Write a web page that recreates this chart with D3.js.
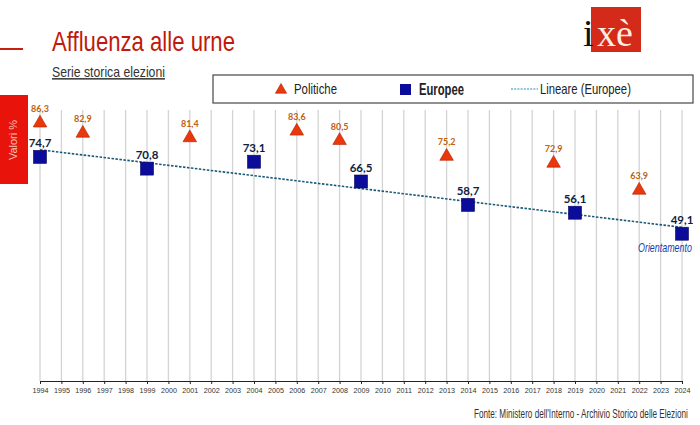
<!DOCTYPE html>
<html><head><meta charset="utf-8">
<script src="https://cdn.jsdelivr.net/npm/d3@7"></script>
<style>html,body{margin:0;padding:0;background:#fff;}</style>
</head><body>
<svg id="c" width="700" height="425"></svg>
<script>
const years = d3.range(1994, 2025);
const politicheYears = [1994, 1996, 2001, 2006, 2008, 2013, 2018, 2022];
const politicheValues = [86.3, 82.9, 81.4, 83.6, 80.5, 75.2, 72.9, 63.9];
const europeeYears = [1994, 1999, 2004, 2009, 2014, 2019, 2024];
const europeeValues = [74.7, 70.8, 73.1, 66.5, 58.7, 56.1, 49.1];
const legendLabels = ["Politiche", "Europee", "Lineare (Europee)"];

const svg = d3.select("#c");
const narrow = "'Liberation Sans Narrow','Liberation Sans',sans-serif";
const fmt = v => d3.format(".1f")(v).replace(".", ",");

// condensed text: horizontally scaled to a target width
function ctext(str, x0, y0, width, size, opts = {}) {
  const t = svg.append("text").attr("font-family", narrow).attr("font-size", size)
    .attr("fill", opts.fill || "#222").text(str);
  if (opts.weight) t.attr("font-weight", opts.weight);
  if (opts.italic) t.attr("font-style", "italic");
  if (opts.underline) t.attr("text-decoration", "underline");
  const w = t.node().getComputedTextLength();
  const sx = width / w;
  const left = opts.anchor === "end" ? x0 - width : x0;
  t.attr("transform", `translate(${left},${y0}) scale(${sx},1)`);
  return t;
}

const x = d3.scaleLinear().domain([1994, 2024]).range([40, 682]);
const y = d3.scaleLinear().domain([0, 90]).range([381, 111]);

// header
svg.append("line").attr("x1",0).attr("x2",23).attr("y1",49).attr("y2",49).attr("stroke","#c8200e").attr("stroke-width",2);
ctext("Affluenza alle urne", 52, 51, 183, 28, {fill:"#c01a0c"});
ctext("Serie storica elezioni", 52, 77, 113, 15, {fill:"#333", underline:true});

// logo
svg.append("rect").attr("x",591).attr("y",7).attr("width",50).attr("height",45).attr("fill","#d42a1a");
svg.append("text").attr("x",583).attr("y",46).attr("font-family","'Liberation Serif',serif").attr("font-size",38).attr("fill","#111").text("i");
svg.append("text").attr("x",597).attr("y",46).attr("font-family","'Liberation Serif',serif").attr("font-size",38).attr("fill","#fbeee0").text("xè");

// left red box
svg.append("rect").attr("x",0).attr("y",95).attr("width",28).attr("height",89).attr("fill","#e8140c");
svg.append("text").attr("transform","translate(17,140) rotate(-90)").attr("text-anchor","middle")
  .attr("font-family",narrow).attr("font-size",11).attr("fill","#f6c0b0").text("Valori %");

// gridlines
svg.append("g").selectAll("line").data(years).join("line")
  .attr("x1",d=>x(d)).attr("x2",d=>x(d)).attr("y1",y(90)-1).attr("y2",y(0))
  .attr("stroke","#d4d4d4").attr("stroke-width",1.3);

// axis
const ax = svg.append("g").attr("transform",`translate(0,${y(0)})`)
  .call(d3.axisBottom(x).tickValues(years).tickFormat(d3.format("d")).tickSize(3).tickSizeOuter(0));
ax.select(".domain").attr("stroke","#222").attr("stroke-width",1.2);
ax.selectAll(".tick line").attr("stroke","#222");
ax.selectAll("text").attr("font-family","'Liberation Sans',Arial,sans-serif").attr("font-size",7.2).attr("fill","#333").attr("dy","0.9em");

// legend box
svg.append("rect").attr("x",213).attr("y",75).attr("width",480).attr("height",28).attr("fill","#fff").attr("stroke","#555").attr("stroke-width",1.3);
const tri = d3.symbol().type(d3.symbolTriangle);
svg.append("path").attr("d",tri.size(55)()).attr("transform","translate(281,90)").attr("fill","#e8380c").attr("stroke","#b02000").attr("stroke-width",0.6);
ctext(legendLabels[0], 294, 94, 43, 14);
svg.append("rect").attr("x",400).attr("y",84).attr("width",11).attr("height",11).attr("fill","#0c0c9a");
ctext(legendLabels[1], 419, 95, 45, 17, {weight:"bold"});
svg.append("line").attr("x1",511).attr("x2",538).attr("y1",89).attr("y2",89).attr("stroke","#2a8ab8").attr("stroke-width",1.2).attr("stroke-dasharray","2,1.2");
ctext(legendLabels[2], 540, 94, 91, 14);

// trend line (least squares on Europee)
const mx = d3.mean(europeeYears), my = d3.mean(europeeValues);
const slope = d3.sum(europeeYears.map((yr,i)=>(yr-mx)*(europeeValues[i]-my))) / d3.sum(europeeYears.map(yr=>(yr-mx)**2));
const trend = yr => my + slope*(yr-mx);
svg.append("line").attr("x1",x(1994)).attr("y1",y(trend(1994))).attr("x2",x(2024)).attr("y2",y(trend(2024)))
  .attr("stroke","#1a5a78").attr("stroke-width",1.6).attr("stroke-dasharray","2.5,1.5");

// Politiche triangles
const pol = politicheYears.map((yr,i)=>({yr, v:politicheValues[i]}));
svg.append("g").selectAll("path").data(pol).join("path")
  .attr("d",tri.size(80)()).attr("transform",d=>`translate(${x(d.yr)},${y(d.v)+1})`)
  .attr("fill","#e8380c").attr("stroke","#b02000").attr("stroke-width",0.6);
svg.append("g").selectAll("text").data(pol).join("text")
  .attr("x",d=>x(d.yr)).attr("y",d=>y(d.v)-10).attr("text-anchor","middle")
  .attr("font-family","Lato,'Open Sans',sans-serif").attr("font-size",9).attr("font-weight","bold").attr("fill","#c06010").text(d=>fmt(d.v));

// Europee squares
const eu = europeeYears.map((yr,i)=>({yr, v:europeeValues[i]}));
svg.append("g").selectAll("rect").data(eu).join("rect")
  .attr("x",d=>x(d.yr)-6.5).attr("y",d=>y(d.v)-6.5).attr("width",13).attr("height",13)
  .attr("fill","#0c0c9a").attr("stroke","#060660").attr("stroke-width",0.6);
svg.append("g").selectAll("text").data(eu).join("text")
  .attr("x",d=>x(d.yr)).attr("y",d=>y(d.v)-10).attr("text-anchor","middle")
  .attr("font-family","Lato,'Open Sans',sans-serif").attr("font-size",11.5).attr("font-weight","bold").attr("fill","#0e1e40").text(d=>fmt(d.v));

ctext("Orientamento", 692, 252, 54, 13, {fill:"#1a3aa8", italic:true, anchor:"end"});
ctext("Fonte: Ministero dell'Interno - Archivio Storico delle Elezioni", 474, 418, 214, 13.5, {fill:"#333"});
</script>
</body></html>
